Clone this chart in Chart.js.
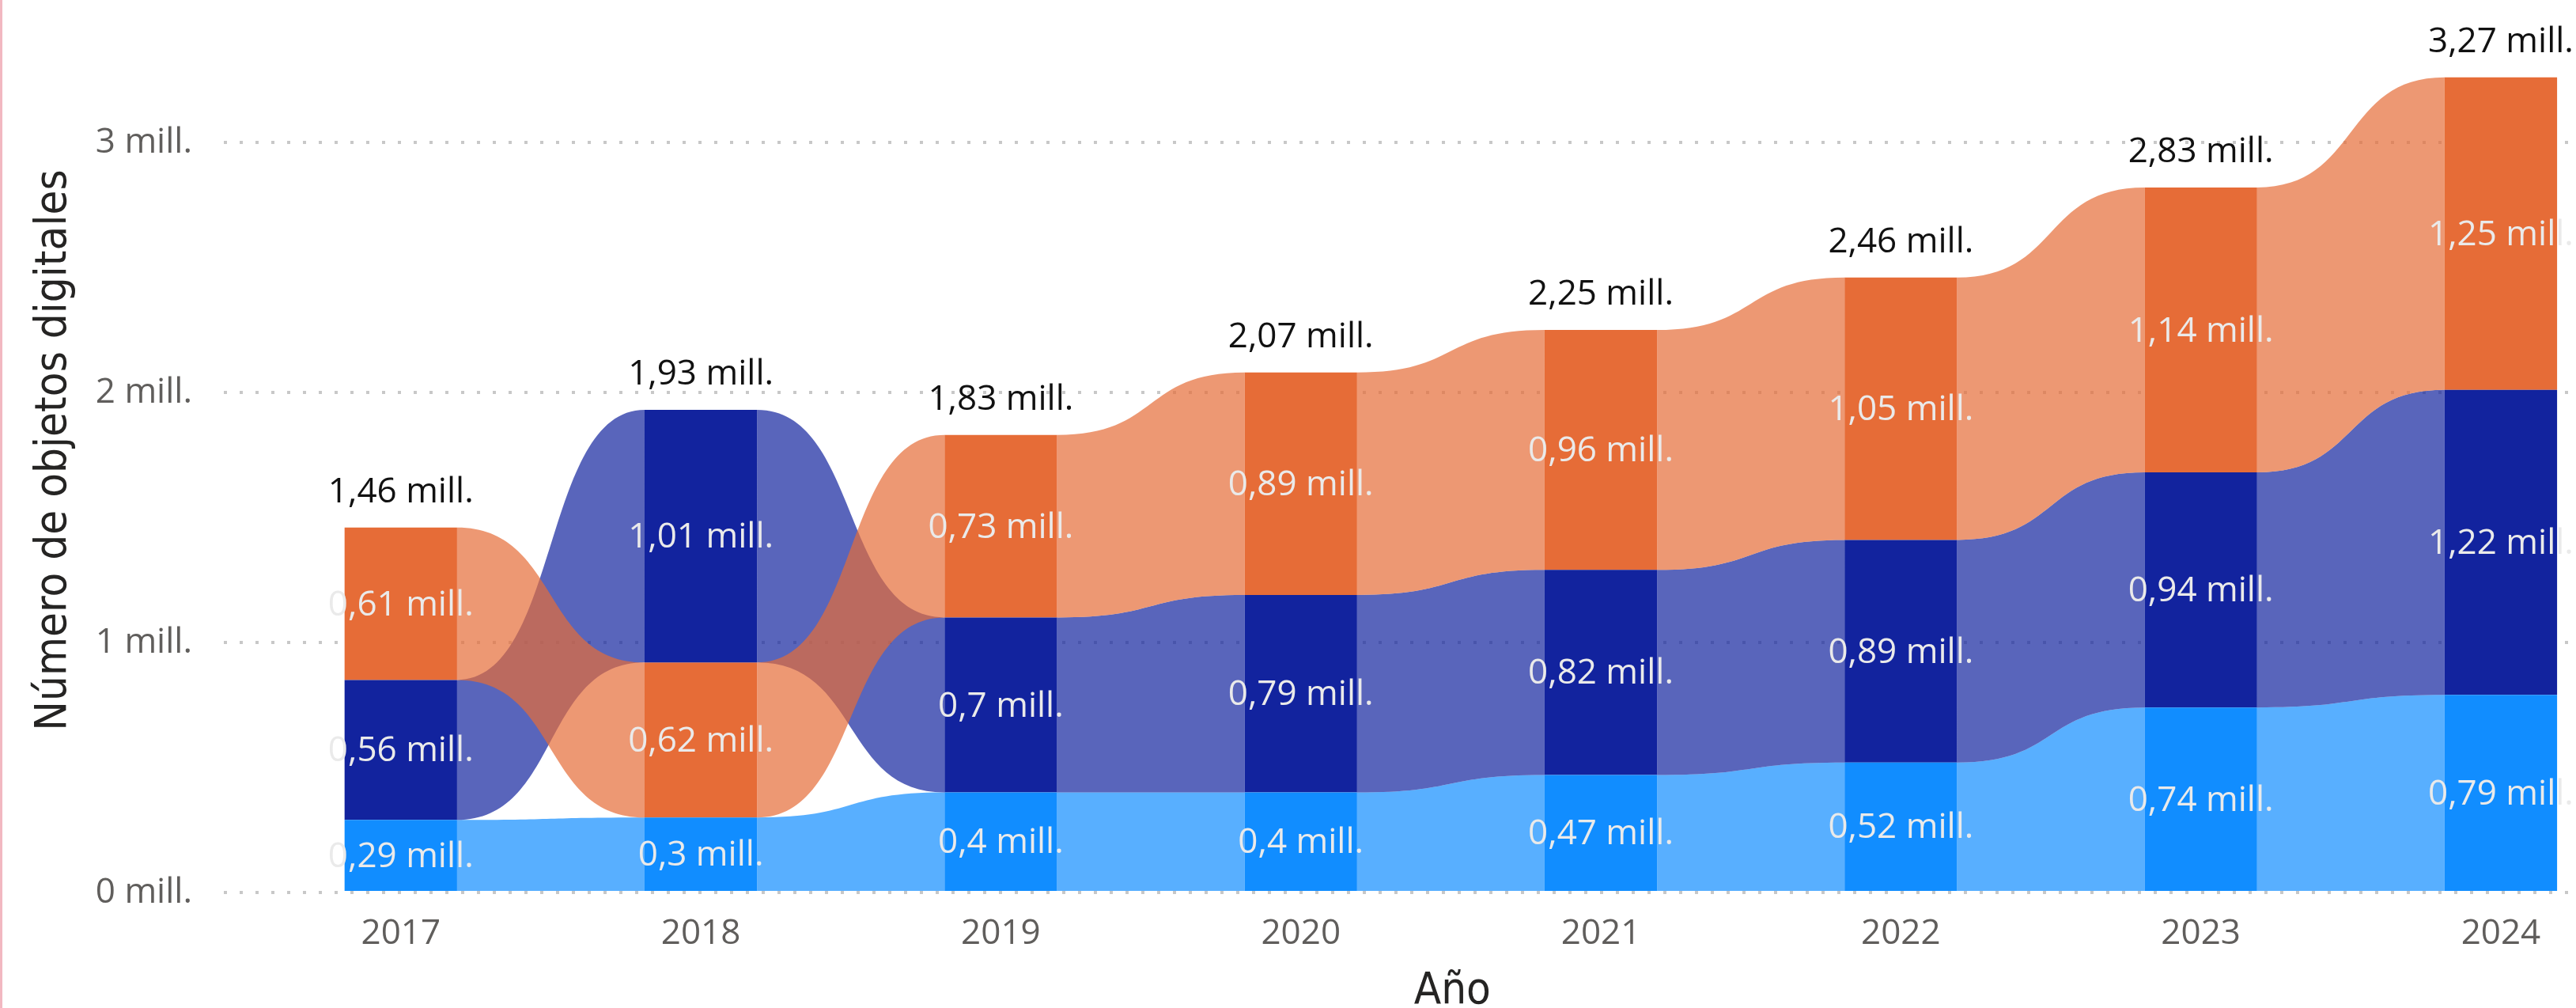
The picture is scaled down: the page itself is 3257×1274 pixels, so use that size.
<!DOCTYPE html>
<html lang="es">
<head>
    <meta charset="UTF-8">
    <title>Número de objetos digitales por año</title>
    <script src="https://cdn.jsdelivr.net/npm/chart.js"></script>
    <style>
        body {
            margin: 0;
            background: #fff;
        }
        #wrap {
            position: relative;
            width: 3257px;
            height: 1274px;
        }
        #edge {
            position: absolute;
            left: 0;
            top: 0;
            width: 3px;
            height: 1274px;
            background: #f2b8c1;
        }
    </style>
</head>
<body>
    <div id="wrap">
        <canvas id="ribbonChart" width="3257" height="1274"></canvas>
        <div id="edge"></div>
    </div>

    <script>
        // Values in millions
        const years = ['2017', '2018', '2019', '2020', '2021', '2022', '2023', '2024'];
        const lightBlue = [0.29, 0.3, 0.4, 0.4, 0.47, 0.52, 0.74, 0.79];
        const darkBlue = [0.56, 1.01, 0.7, 0.79, 0.82, 0.89, 0.94, 1.22];
        const orange = [0.61, 0.62, 0.73, 0.89, 0.96, 1.05, 1.14, 1.25];
        const totals = [1.46, 1.93, 1.83, 2.07, 2.25, 2.46, 2.83, 3.27];
        const yTicks = [0, 1, 2, 3];

        const seriesValues = [lightBlue, darkBlue, orange];
        const barColors = ['#118DFF', '#12239E', '#E66C37'];
        const ribbonColors = ['rgba(17,141,255,0.7)', 'rgba(18,35,158,0.7)', 'rgba(230,108,55,0.7)'];

        const FONT = "'Open Sans', 'Noto Sans', sans-serif";
        const TITLE_FONT = "'Liberation Sans Narrow', 'DejaVu Sans Condensed', 'Liberation Sans', sans-serif";

        const fmt = v => String(v).replace('.', ',') + ' mill.';

        // ribbon chart: in each year the biggest series sits on top
        function stackYear(i) {
            const order = [0, 1, 2].sort((a, b) => seriesValues[a][i] - seriesValues[b][i]);
            const ranges = [];
            let base = 0;
            order.forEach(s => {
                ranges[s] = [base, base + seriesValues[s][i]];
                base += seriesValues[s][i];
            });
            return ranges;
        }
        const stacks = years.map((y, i) => stackYear(i));

        const datasets = seriesValues.map((vals, s) => ({
            data: years.map((y, i) => ({ x: i, y: stacks[i][s] })),
            backgroundColor: barColors[s],
            borderWidth: 0,
            grouped: false,
            categoryPercentage: 1,
            barPercentage: 0.375
        }));

        // ribbons between the bars, drawn under them
        const ribbonPlugin = {
            id: 'ribbons',
            beforeDatasetsDraw(chart) {
                const ctx = chart.ctx;
                ctx.save();
                chart.data.datasets.forEach((ds, d) => {
                    const bars = chart.getDatasetMeta(d).data;
                    ctx.fillStyle = ribbonColors[d];
                    for (let i = 0; i < bars.length - 1; i++) {
                        const a = bars[i], b = bars[i + 1];
                        const x0 = a.x + a.width / 2;
                        const x1 = b.x - b.width / 2;
                        const k = (x1 - x0) * 0.55;
                        ctx.beginPath();
                        ctx.moveTo(x0, a.y);
                        ctx.bezierCurveTo(x0 + k, a.y, x1 - k, b.y, x1, b.y);
                        ctx.lineTo(x1, b.base);
                        ctx.bezierCurveTo(x1 - k, b.base, x0 + k, a.base, x0, a.base);
                        ctx.closePath();
                        ctx.fill();
                    }
                });
                ctx.restore();
            }
        };

        // value labels, totals and axis titles
        const labelPlugin = {
            id: 'labels',
            afterDatasetsDraw(chart) {
                const ctx = chart.ctx;
                ctx.save();
                ctx.font = '44px ' + FONT;
                ctx.textAlign = 'center';
                ctx.textBaseline = 'middle';
                ctx.fillStyle = '#EAEAEA';
                chart.data.datasets.forEach((ds, d) => {
                    chart.getDatasetMeta(d).data.forEach((bar, i) => {
                        ctx.fillText(fmt(seriesValues[d][i]), bar.x, (bar.y + bar.base) / 2 + 2);
                    });
                });

                ctx.fillStyle = '#111';
                ctx.textBaseline = 'alphabetic';
                years.forEach((y, i) => {
                    let top = Infinity, x = 0;
                    chart.data.datasets.forEach((ds, d) => {
                        const bar = chart.getDatasetMeta(d).data[i];
                        if (bar.y < top) { top = bar.y; x = bar.x; }
                    });
                    ctx.fillText(fmt(totals[i]), x, top - 32);
                });

                const area = chart.chartArea;
                ctx.fillStyle = '#252423';
                ctx.font = '56px ' + TITLE_FONT;
                ctx.fillText('Año', area.left + (area.right - area.left) * 0.523, chart.height - 6);

                ctx.translate(83, (area.top + area.bottom) / 2);
                ctx.rotate(-Math.PI / 2);
                ctx.fillText('Número de objetos digitales', 0, 0);
                ctx.restore();
            }
        };

        const ctx = document.getElementById('ribbonChart').getContext('2d');
        new Chart(ctx, {
            type: 'bar',
            data: { datasets: datasets },
            plugins: [ribbonPlugin, labelPlugin],
            options: {
                responsive: false,
                devicePixelRatio: 1,
                animation: false,
                layout: { padding: { top: 10, right: 4, left: 0, bottom: 0 } },
                plugins: {
                    legend: { display: false },
                    tooltip: { enabled: false }
                },
                scales: {
                    x: {
                        type: 'linear',
                        offset: false,
                        min: -0.59,
                        max: 7.24,
                        afterFit: scale => {
                            scale.height = 146;
                            scale.paddingLeft = 0;
                            scale.paddingRight = 0;
                        },
                        afterBuildTicks: scale => {
                            scale.ticks = years.map((y, i) => ({ value: i }));
                        },
                        grid: { display: false, drawTicks: false },
                        border: { display: false },
                        ticks: {
                            padding: 26,
                            color: '#605E5C',
                            font: { family: FONT, size: 44 },
                            maxRotation: 0,
                            autoSkip: false,
                            callback: v => years[v]
                        }
                    },
                    y: {
                        min: 0,
                        max: 3.538,
                        afterFit: scale => {
                            scale.width = 283;
                            scale.paddingTop = 0;
                            scale.paddingBottom = 0;
                        },
                        afterBuildTicks: scale => {
                            scale.ticks = yTicks.map(v => ({ value: v }));
                        },
                        grid: { color: '#C8C8C8', lineWidth: 4, drawTicks: false },
                        border: { display: false, dash: [4, 16] },
                        ticks: {
                            padding: 40,
                            color: '#605E5C',
                            font: { family: FONT, size: 44 },
                            callback: v => v + ' mill.'
                        }
                    }
                }
            }
        });
    </script>
</body>
</html>
